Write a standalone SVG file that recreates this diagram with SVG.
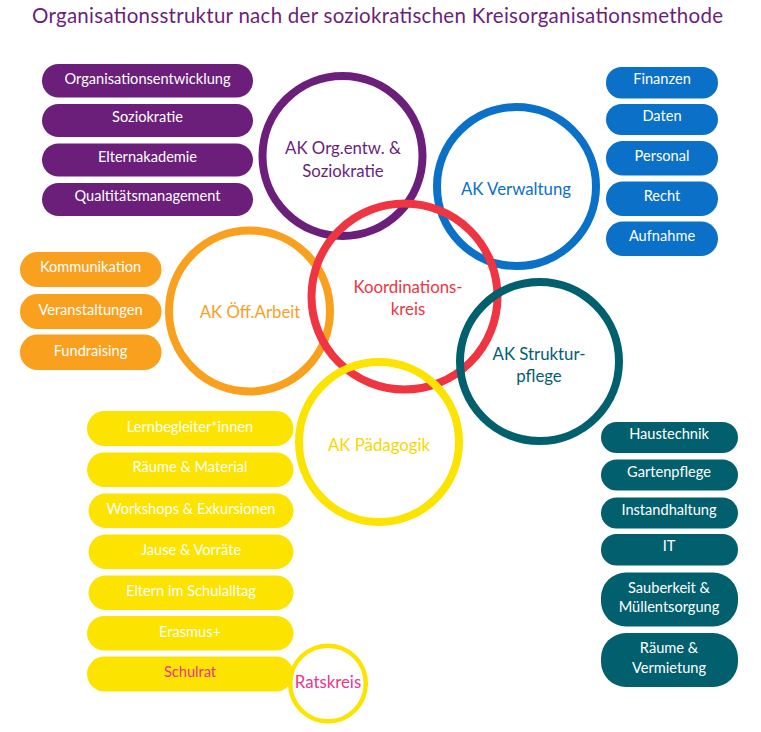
<svg xmlns="http://www.w3.org/2000/svg" width="761" height="732" viewBox="0 0 761 732">
<style>
text{font-family:Lato,"Liberation Sans",sans-serif;text-anchor:middle}
.title{font-size:20.5px;fill:#6b1f7a;text-anchor:start}
.bt{font-size:14.6px;fill:#ffffff}
.ct{font-size:16.8px}
.ring{fill:none;stroke-width:8}
.pu{fill:#6b1f7a}.bl{fill:#0a70c8}.or{fill:#f9a01f}.te{fill:#02606e}.ye{fill:#fde300}
</style>
<rect width="761" height="732" fill="#ffffff"/>
<text class="title" x="32" y="23" textLength="691" lengthAdjust="spacing">Organisationsstruktur nach der soziokratischen Kreisorganisationsmethode</text>

<g id="circles">
<g id="ak-oeff"><circle class="ring" cx="249.5" cy="311" r="80.5" stroke="#f9a01f"/><text class="ct" x="250" y="318" fill="#f9a01f">AK Öff.Arbeit</text></g>
<g id="ak-org"><circle class="ring" cx="342.5" cy="156" r="80" stroke="#6b1f7a"/><text class="ct" x="343" y="154" fill="#6b1f7a">AK Org.entw. &amp;</text><text class="ct" x="343" y="177" fill="#6b1f7a">Soziokratie</text></g>
<g id="ak-verwaltung"><circle class="ring" cx="516.5" cy="186.5" r="79.5" stroke="#0a70c8"/><text class="ct" x="516" y="195" fill="#0a70c8">AK Verwaltung</text></g>
<g id="koordinationskreis"><circle class="ring" cx="404.5" cy="296.5" r="93" stroke="#ef3442"/><text class="ct" x="408" y="293" fill="#ef3442">Koordinations-</text><text class="ct" x="408" y="315" fill="#ef3442">kreis</text></g>
<g id="ak-struktur"><circle class="ring" cx="539.5" cy="361.5" r="79.5" stroke="#02606e"/><text class="ct" x="539" y="360" fill="#02606e">AK Struktur-</text><text class="ct" x="539" y="382" fill="#02606e">pflege</text></g>
<g id="ak-paed"><circle class="ring" cx="379" cy="442" r="80" stroke="#fde300"/><text class="ct" x="379" y="451" fill="#f6d800">AK Pädagogik</text></g>
</g>

<g id="purple-items">
<g id="p1"><rect class="pu" x="42" y="64" width="211" height="33.5" rx="16.5"/><text class="bt" x="147.5" y="84">Organisationsentwicklung</text></g>
<g id="p2"><rect class="pu" x="42" y="104" width="211" height="33" rx="16.5"/><text class="bt" x="147.5" y="122">Soziokratie</text></g>
<g id="p3"><rect class="pu" x="42" y="143.5" width="211" height="33" rx="16.5"/><text class="bt" x="147.5" y="162">Elternakademie</text></g>
<g id="p4"><rect class="pu" x="42" y="183" width="211" height="33" rx="16.5"/><text class="bt" x="147.5" y="201">Qualtitätsmanagement</text></g>
</g>

<g id="blue-items">
<g id="b1"><rect class="bl" x="606" y="67" width="112" height="31.5" rx="15.5"/><text class="bt" x="662" y="84">Finanzen</text></g>
<g id="b2"><rect class="bl" x="606" y="104" width="112" height="31" rx="15.5"/><text class="bt" x="662" y="121">Daten</text></g>
<g id="b3"><rect class="bl" x="606" y="141" width="112" height="34.5" rx="17"/><text class="bt" x="662" y="161">Personal</text></g>
<g id="b4"><rect class="bl" x="606" y="181.5" width="112" height="34.5" rx="17"/><text class="bt" x="662" y="201">Recht</text></g>
<g id="b5"><rect class="bl" x="606" y="221.5" width="112" height="34.5" rx="17"/><text class="bt" x="662" y="241">Aufnahme</text></g>
</g>

<g id="orange-items">
<g id="o1"><rect class="or" x="20" y="252" width="141.5" height="35" rx="17.5"/><text class="bt" x="90.5" y="271.5">Kommunikation</text></g>
<g id="o2"><rect class="or" x="20" y="294" width="141.5" height="35" rx="17.5"/><text class="bt" x="90.5" y="314.5">Veranstaltungen</text></g>
<g id="o3"><rect class="or" x="20" y="334.5" width="141.5" height="35.5" rx="17.5"/><text class="bt" x="90.5" y="355.5">Fundraising</text></g>
</g>

<g id="yellow-items">
<g id="y1"><rect class="ye" x="87" y="411" width="206.5" height="35" rx="17.5"/><text class="bt" x="190" y="431.5">Lernbegleiter*innen</text></g>
<g id="y2"><rect class="ye" x="87" y="452.5" width="206.5" height="34.5" rx="17.5"/><text class="bt" x="190" y="472">Räume &amp; Material</text></g>
<g id="y3"><rect class="ye" x="88.5" y="493.5" width="205" height="34.5" rx="17.5"/><text class="bt" x="191" y="513.5">Workshops &amp; Exkursionen</text></g>
<g id="y4"><rect class="ye" x="88.5" y="534.5" width="205" height="34.5" rx="17.5"/><text class="bt" x="191" y="554.5">Jause &amp; Vorräte</text></g>
<g id="y5"><rect class="ye" x="88.5" y="575.5" width="205" height="34.5" rx="17.5"/><text class="bt" x="191" y="595.5">Eltern im Schulalltag</text></g>
<g id="y6"><rect class="ye" x="87" y="616" width="206.5" height="34.5" rx="17.5"/><text class="bt" x="190" y="636.5">Erasmus+</text></g>
<g id="y7"><rect class="ye" x="87" y="656.5" width="206.5" height="35" rx="17.5"/><text class="bt" x="190" y="677" style="fill:#e8388b">Schulrat</text></g>
</g>

<g id="teal-items">
<g id="t1"><rect class="te" x="601" y="422" width="137" height="31" rx="15.5"/><text class="bt" x="669" y="438.5">Haustechnik</text></g>
<g id="t2"><rect class="te" x="601" y="459.5" width="137" height="31" rx="15.5"/><text class="bt" x="669" y="477">Gartenpflege</text></g>
<g id="t3"><rect class="te" x="601" y="497.5" width="137" height="31" rx="15.5"/><text class="bt" x="669" y="514.5">Instandhaltung</text></g>
<g id="t4"><rect class="te" x="601" y="534" width="137" height="31.5" rx="15.5"/><text class="bt" x="669" y="551">IT</text></g>
<g id="t5"><rect class="te" x="601" y="572.5" width="137" height="54" rx="25"/><text class="bt" x="669" y="592.5">Sauberkeit &amp;</text><text class="bt" x="669" y="612">Müllentsorgung</text></g>
<g id="t6"><rect class="te" x="601" y="633" width="137" height="54" rx="25"/><text class="bt" x="669" y="652.5">Räume &amp;</text><text class="bt" x="669" y="672.5">Vermietung</text></g>
</g>

<g id="ratskreis"><circle cx="328" cy="683.5" r="37.8" fill="#ffffff" stroke="#fde300" stroke-width="4.5"/><text class="ct" x="328" y="688" fill="#e8388b">Ratskreis</text></g>
<g id="connectors"/>
</svg>
